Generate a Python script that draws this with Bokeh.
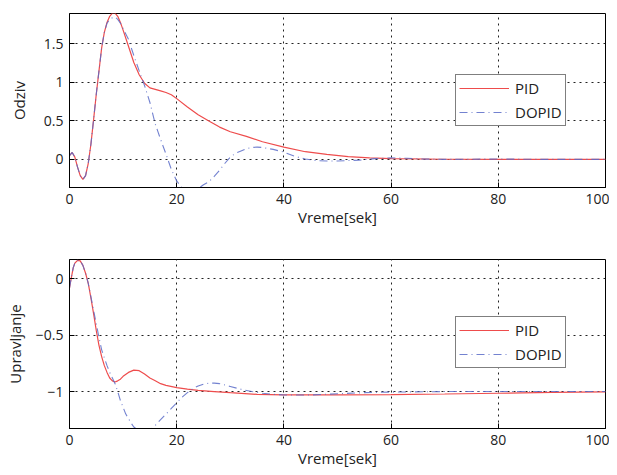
from bokeh.plotting import figure
from bokeh.layouts import column
from bokeh.models import Range1d, Legend, LegendItem, FixedTicker
from bokeh.embed import file_html
from bokeh.resources import INLINE

# ---- data ----
t_odziv_pid = [0, 0.5, 1, 1.5, 2, 2.5, 3, 3.5, 4, 4.5, 5, 5.5, 6, 6.5, 7, 7.5, 8, 8.5, 9, 9.5,
               10, 11, 12, 13, 14, 15, 16, 17, 18, 19, 20, 22, 24, 26, 28, 30, 33, 36, 40, 44,
               48, 52, 56, 60, 70, 80, 90, 100]
odziv_pid = [0.05, 0.09, 0.03, -0.1, -0.21, -0.26, -0.21, -0.05, 0.2, 0.52, 0.85, 1.15, 1.45, 1.65,
             1.78, 1.86, 1.9, 1.9, 1.86, 1.78, 1.68, 1.47, 1.26, 1.1, 0.99, 0.93, 0.91, 0.89, 0.87,
             0.84, 0.79, 0.68, 0.58, 0.5, 0.42, 0.36, 0.3, 0.23, 0.16, 0.1, 0.065, 0.035, 0.02,
             0.01, 0.002, 0.0, 0.0, 0.0]

t_odziv_dopid = [0, 0.5, 1, 1.5, 2, 2.5, 3, 3.5, 4, 4.5, 5, 5.5, 6, 6.5, 7, 7.5, 8, 8.5, 9, 9.5,
                 10, 11, 12, 13, 14, 15, 16, 17, 18, 19, 20, 21, 22, 23, 24, 25, 26, 27, 28, 29,
                 30, 31, 32, 33, 34, 35, 36, 38, 40, 42, 44, 46, 48, 50, 54, 57, 60, 63, 66, 70,
                 80, 90, 100]
odziv_dopid = [0.05, 0.09, 0.03, -0.1, -0.21, -0.26, -0.21, -0.05, 0.2, 0.52, 0.85, 1.15, 1.45,
               1.65, 1.77, 1.82, 1.84, 1.85, 1.82, 1.77, 1.7, 1.56, 1.35, 1.15, 0.96, 0.74, 0.46,
               0.26, 0.07, -0.13, -0.28, -0.37, -0.41, -0.42, -0.38, -0.33, -0.29, -0.22, -0.14,
               -0.05, 0.03, 0.08, 0.11, 0.14, 0.155, 0.16, 0.155, 0.13, 0.095, 0.04, 0.005,
               -0.015, -0.02, -0.02, -0.01, 0.01, 0.02, 0.015, 0.005, 0.0, 0.005, 0.0, 0.0]

t_upr_pid = [0, 0.3, 0.7, 1, 1.5, 2, 2.5, 3, 3.5, 4, 4.5, 5, 5.5, 6, 6.5, 7, 7.5, 8, 8.5, 9, 9.5,
             10, 11, 12, 13, 14, 15, 16, 17, 18, 20, 22, 24, 27, 30, 35, 40, 50, 60, 70, 80, 90, 100]
upr_pid = [-0.08, 0.0, 0.1, 0.14, 0.165, 0.16, 0.12, 0.05, -0.04, -0.17, -0.31, -0.46, -0.59,
           -0.69, -0.77, -0.83, -0.88, -0.905, -0.915, -0.905, -0.89, -0.865, -0.83, -0.81,
           -0.815, -0.845, -0.88, -0.905, -0.93, -0.945, -0.965, -0.978, -0.99, -1.0, -1.01,
           -1.025, -1.03, -1.03, -1.028, -1.022, -1.015, -1.008, -1.003]

t_upr_dopid = [0, 0.3, 0.7, 1, 1.5, 2, 2.5, 3, 3.5, 4, 4.5, 5, 5.5, 6, 6.5, 7, 7.5, 8, 8.5, 9, 9.5,
               10, 10.5, 11, 11.5, 12, 13, 14, 15, 16, 17, 18, 19, 20, 21, 22, 23, 24, 25, 26,
               27, 28, 30, 32, 34, 36, 38, 40, 45, 50, 55, 60, 70, 80, 90, 100]
upr_dopid = [-0.08, 0.0, 0.1, 0.14, 0.165, 0.16, 0.12, 0.05, -0.04, -0.16, -0.28, -0.4, -0.52,
             -0.63, -0.7, -0.77, -0.83, -0.88, -0.93, -1.0, -1.08, -1.14, -1.2, -1.24, -1.28,
             -1.315, -1.35, -1.36, -1.345, -1.3, -1.25, -1.2, -1.15, -1.1, -1.05, -1.01, -0.975,
             -0.95, -0.935, -0.925, -0.925, -0.93, -0.955, -0.98, -1.0, -1.015, -1.025, -1.03,
             -1.03, -1.02, -1.01, -1.005, -1.0, -1.0, -1.0, -1.0]

x_ticks = [0, 20, 40, 60, 80, 100]
odziv_ticks = [0, 0.5, 1, 1.5]
upr_ticks = [-1, -0.5, 0]
upr_tick_labels = {-1: "\u22121", -0.5: "\u22120.5", 0: "0"}
series_names = ["PID", "DOPID"]

FONT = "Open Sans"
TXT = "#222222"
PID_COLOR = "#ee4c4c"
DOPID_COLOR = "#5a6cc8"


def style(p, ylabel, ylab_standoff):
    p.outline_line_color = "black"
    p.outline_line_width = 1
    for ax in (p.xaxis[0], p.yaxis[0]):
        ax.major_tick_in = 5
        ax.major_tick_out = 0
        ax.minor_tick_line_color = None
        ax.axis_line_color = "black"
        ax.major_tick_line_color = "black"
        ax.major_label_text_font = FONT
        ax.major_label_text_font_size = "14px"
        ax.major_label_text_color = TXT
        ax.axis_label_text_font = FONT
        ax.axis_label_text_font_size = "15px"
        ax.axis_label_text_font_style = "normal"
        ax.axis_label_text_color = TXT
    p.xaxis[0].ticker = FixedTicker(ticks=x_ticks)
    p.xaxis[0].axis_label = "Vreme[sek]"
    p.xaxis[0].major_label_standoff = 6
    p.xaxis[0].axis_label_standoff = 0
    p.yaxis[0].axis_label = ylabel
    p.yaxis[0].major_label_standoff = 6
    p.yaxis[0].axis_label_standoff = ylab_standoff
    for g in (p.xgrid[0], p.ygrid[0]):
        g.grid_line_color = "#222222"
        g.grid_line_dash = "2 4"
        g.grid_line_width = 1


def add_legend(p, r1, r2, loc):
    leg = Legend(items=[LegendItem(label=series_names[0], renderers=[r1]),
                        LegendItem(label=series_names[1], renderers=[r2])],
                 location=loc)
    leg.border_line_color = "black"
    leg.border_line_width = 1
    leg.background_fill_color = "white"
    leg.background_fill_alpha = 1
    leg.glyph_width = 50
    leg.glyph_height = 20
    leg.label_height = 20
    leg.label_standoff = 6
    leg.padding = 3
    leg.spacing = 4
    leg.margin = 0
    leg.label_text_font = FONT
    leg.label_text_font_size = "15px"
    leg.label_text_color = TXT
    p.add_layout(leg, "center")
    return leg


# ---- top: Odziv ----
p1 = figure(width=609, height=235, output_backend="svg", toolbar_location=None,
            x_range=Range1d(0, 100), y_range=Range1d(-0.365, 1.896),
            min_border_left=69, min_border_right=4, min_border_top=13, min_border_bottom=48)
p1.yaxis[0].ticker = FixedTicker(ticks=odziv_ticks)
style(p1, "Odziv", 12)
r1 = p1.line(t_odziv_pid, odziv_pid, line_color=PID_COLOR, line_width=1.2)
r2 = p1.line(t_odziv_dopid, odziv_dopid, line_color=DOPID_COLOR, line_width=1.1,
             line_alpha=0.85, line_dash="8 4 1 4")
add_legend(p1, r1, r2, (386, 61))

# ---- bottom: Upravljanje ----
p2 = figure(width=609, height=235, output_backend="svg", toolbar_location=None,
            x_range=Range1d(0, 100), y_range=Range1d(-1.328, 0.172),
            min_border_left=69, min_border_right=4, min_border_top=24, min_border_bottom=37)
p2.yaxis[0].ticker = FixedTicker(ticks=upr_ticks)
p2.yaxis[0].major_label_overrides = upr_tick_labels
style(p2, "Upravljanje", 8)
r3 = p2.line(t_upr_pid, upr_pid, line_color=PID_COLOR, line_width=1.2)
r4 = p2.line(t_upr_dopid, upr_dopid, line_color=DOPID_COLOR, line_width=1.1,
             line_alpha=0.85, line_dash="8 4 1 4")
add_legend(p2, r3, r4, (386, 60))

layout = column(p1, p2, spacing=0)
open("out.html", "w").write(file_html(layout, INLINE))
